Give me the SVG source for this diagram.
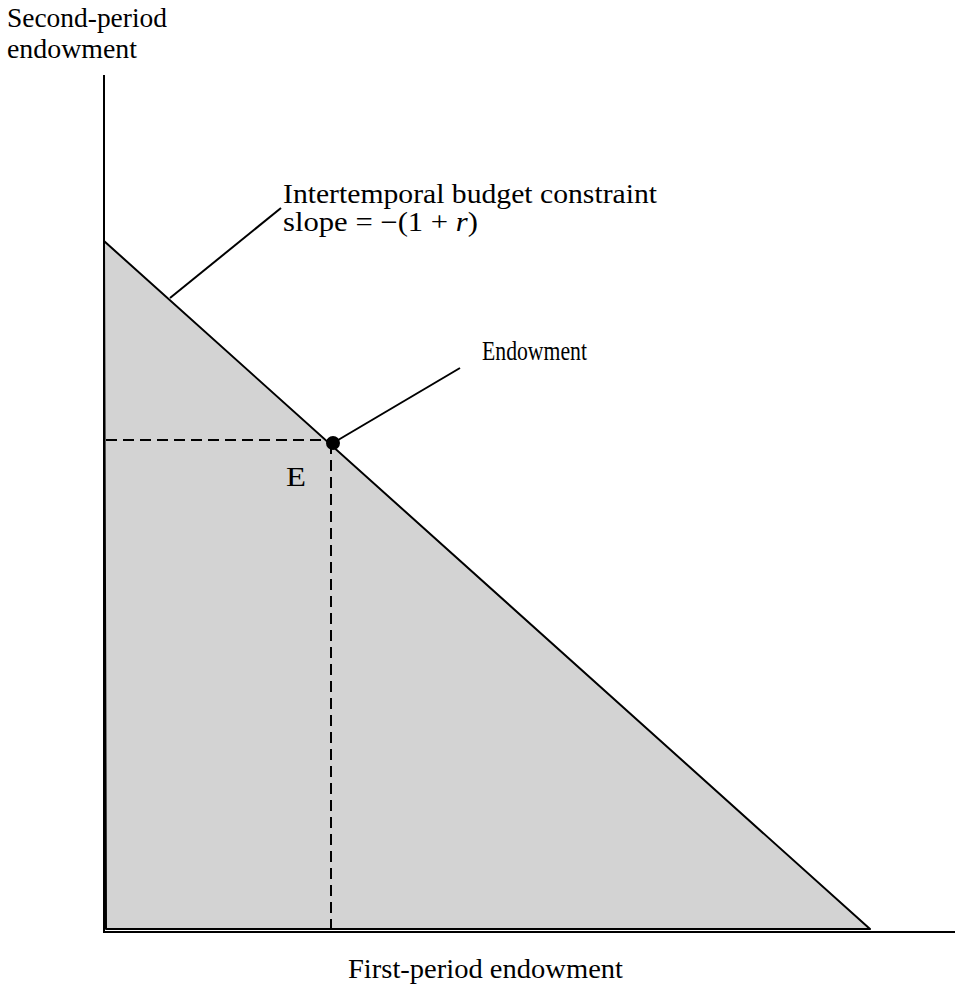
<svg xmlns="http://www.w3.org/2000/svg" width="955" height="992" viewBox="0 0 955 992">
<style>
text{font-family:"Liberation Serif","DejaVu Serif",serif;font-size:27px;fill:#000}
.ln{stroke:#000;stroke-width:2;fill:none}
.dash{stroke:#000;stroke-width:2;fill:none;stroke-dasharray:11 6}
</style>
<rect width="955" height="992" fill="#fff"/>
<g id="region">
<polygon points="104,241 870,929 106,929" fill="#d3d3d3" stroke="#000" stroke-width="2" stroke-linejoin="round"/>
</g>
<g id="axes">
<line class="ln" x1="104" y1="75" x2="104" y2="932"/>
<line class="ln" x1="103" y1="932" x2="955" y2="932"/>
<text x="7" y="27" textLength="160" lengthAdjust="spacingAndGlyphs">Second-period</text>
<text x="7" y="58" textLength="130" lengthAdjust="spacingAndGlyphs">endowment</text>
<text x="348" y="978" textLength="275" lengthAdjust="spacingAndGlyphs">First-period endowment</text>
</g>
<g id="connectors">
<line class="dash" x1="106" y1="440" x2="333" y2="440"/>
<line class="dash" x1="331" y1="443" x2="331" y2="930"/>
<line class="ln" x1="170" y1="298" x2="281" y2="208"/>
<line class="ln" x1="333" y1="443" x2="460" y2="368"/>
</g>
<g id="budget">
<text x="283" y="203" textLength="374" lengthAdjust="spacingAndGlyphs">Intertemporal budget constraint</text>
<text x="283" y="231" textLength="195" lengthAdjust="spacingAndGlyphs">slope = −(1 + <tspan font-style="italic">r</tspan>)</text>
</g>
<g id="endowment">
<circle cx="333" cy="443" r="7" fill="#000"/>
<text x="482" y="360" textLength="105" lengthAdjust="spacingAndGlyphs">Endowment</text>
<text x="286" y="486" font-size="32" textLength="20" lengthAdjust="spacingAndGlyphs">E</text>
</g>
</svg>
